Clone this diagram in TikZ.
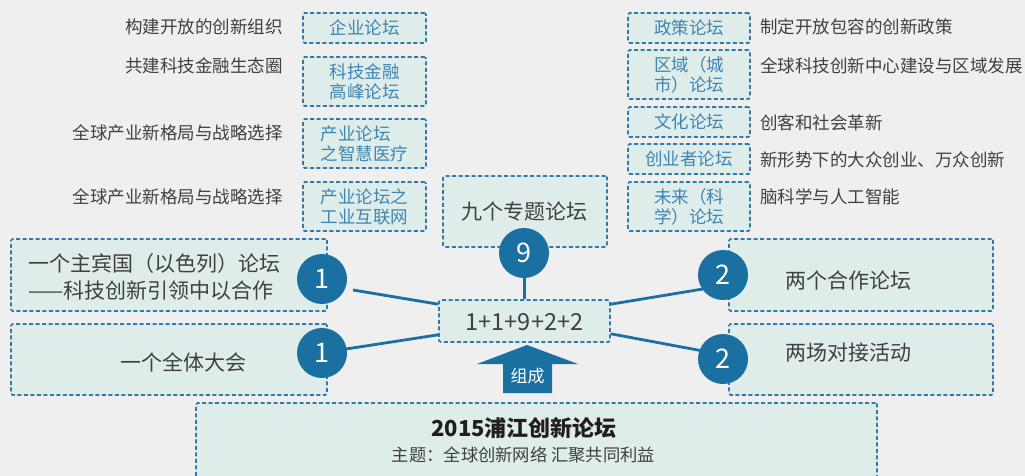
\documentclass[tikz,border=0pt]{standalone}
\usepackage{fontspec}
\setmainfont{Noto Sans CJK SC}
\usetikzlibrary{calc}
\definecolor{bg}{RGB}{239,239,239}
\definecolor{boxfill}{RGB}{222,237,234}
\definecolor{dashc}{RGB}{48,122,172}
\definecolor{circ}{RGB}{26,113,161}
\definecolor{bluetext}{RGB}{62,133,178}
\definecolor{graytext}{RGB}{64,64,64}
\definecolor{darktext}{RGB}{35,30,30}
\tikzset{
  box/.style={draw=dashc, fill=boxfill, line width=1.6pt, dash pattern=on 4pt off 2.5pt, rounded corners=1.5pt, inner sep=0pt},
  forum/.style={box, text=bluetext, font=\fontsize{17.5}{20}\selectfont, align=left, minimum width=123pt},
  bigbox/.style={box},
  lbl/.style={text=graytext, font=\fontsize{17.5}{20}\selectfont, inner sep=0pt},
  maintext/.style={text=graytext, font=\fontsize{21}{27}\selectfont, inner sep=0pt, align=left},
  num/.style={circle, fill=circ, text=white, minimum size=50pt, inner sep=0pt, font=\fontsize{27}{27}\selectfont},
  conn/.style={draw=circ, line width=2.8pt}
}
\begin{document}
\begin{tikzpicture}[x=1pt,y=-1pt]
\fill[bg] (0,0) rectangle (1025,476);
\useasboundingbox (0,0) rectangle (1025,476);
\clip (0,0) rectangle (1025,476);

% top-left forum boxes
\node[forum, minimum height=30pt] (f1) at (364.5,28) {企业论坛};
\node[forum, minimum height=49pt] (f2) at (364.5,81.5) {科技金融\\高峰论坛};
\node[forum, minimum height=49pt] (f3) at (364.5,143.5) {产业论坛\\之智慧医疗};
\node[forum, minimum height=49pt] (f4) at (364.5,206.5) {产业论坛之\\工业互联网};
\node[lbl, anchor=east] (lf1) at (283,27) {构建开放的创新组织};
\node[lbl, anchor=east] (lf2) at (283,66) {共建科技金融生态圈};
\node[lbl, anchor=east] (lf3) at (283,133) {全球产业新格局与战略选择};
\node[lbl, anchor=east] (lf4) at (283,197) {全球产业新格局与战略选择};

% top-right forum boxes
\node[forum, minimum width=122pt, minimum height=30pt] (g1) at (689,28) {政策论坛};
\node[forum, minimum width=122pt, minimum height=49pt] (g2) at (689,74.5) {区域（城\\市）论坛};
\node[forum, minimum width=122pt, minimum height=30pt] (g3) at (689,122) {文化论坛};
\node[forum, minimum width=122pt, minimum height=30pt] (g4) at (689,159) {创业者论坛};
\node[forum, minimum width=122pt, minimum height=49pt] (g5) at (689,206.5) {未来（科\\学）论坛};
\node[lbl, anchor=west] (lg1) at (760,27) {制定开放包容的创新政策};
\node[lbl, anchor=west] (lg2) at (760,66) {全球科技创新中心建设与区域发展};
\node[lbl, anchor=west] (lg3) at (760,123) {创客和社会革新};
\node[lbl, anchor=west] (lg4) at (760,160) {新形势下的大众创业、万众创新};
\node[lbl, anchor=west] (lg5) at (760,197) {脑科学与人工智能};

% main boxes
\node[bigbox, minimum width=316pt, minimum height=72pt] (L1) at (169,275) {};
\node[maintext] (L1t) at (154.5,276.5) {一个主宾国（以色列）论坛\\——科技创新引领中以合作};
\node[bigbox, minimum width=316pt, minimum height=71pt] (L2) at (169,359.5) {};
\node[maintext] (L2t) at (183,362) {一个全体大会};
\node[bigbox, minimum width=164pt, minimum height=71pt] (N) at (525,211.5) {};
\node[maintext] (Nt) at (524,212) {九个专题论坛};
\node[bigbox, minimum width=171pt, minimum height=42pt] (M) at (524.5,321) {};
\node[maintext, font=\fontsize{23.5}{24}\selectfont] (Mt) at (524.5,322) {1+1+9+2+2};
\node[bigbox, minimum width=264pt, minimum height=72pt] (R1) at (861,275) {};
\node[maintext] (R1t) at (848,280) {两个合作论坛};
\node[bigbox, minimum width=264pt, minimum height=71pt] (R2) at (861,359.5) {};
\node[maintext] (R2t) at (848,353) {两场对接活动};
\node[bigbox, minimum width=681pt, minimum height=100pt] (B) at (536.5,453) {};
\node[text=darktext, font=\fontsize{22}{22}\selectfont\bfseries, inner sep=0pt] (Bt) at (524,428) {2015浦江创新论坛};
\node[text=graytext, font=\fontsize{17.3}{20}\selectfont, inner sep=0pt] (Bs) at (523.5,455) {主题：全球创新网络 汇聚共同利益};

% arrow 组成
\fill[circ] (527,345) -- (578,364) -- (552,364) -- (552,393) -- (503,393) -- (503,364) -- (477,364) -- cycle;
\node[text=white, font=\fontsize{17}{17}\selectfont, inner sep=0pt] (zc) at (527.5,376) {组成};

% circles (coordinates for connectors)
\coordinate (c1a) at (322,279);
\coordinate (c1b) at (322,353);
\coordinate (c9) at (524,253);
\coordinate (c2a) at (723,275);
\coordinate (c2b) at (723,359);

% connectors
\draw[conn] ($(M.north west)+(0,5)$) -- ($(c1a)+(31,11)$);
\draw[conn] ($(M.south west)+(0,-8)$) -- ($(c1b)+(24,-4)$);
\draw[conn] ($(M.north east)+(0,5)$) -- ($(c2a)+(-20,14)$);
\draw[conn] ($(M.south east)+(0,-9)$) -- ($(c2b)+(-20,-8)$);
\draw[conn] (M.north) -- (M.north |- c9);

% number circles
\node[num] (n1a) at (c1a) {1};
\node[num] (n1b) at (c1b) {1};
\node[num] (n9) at (c9) {9};
\node[num] (n2a) at (c2a) {2};
\node[num] (n2b) at (c2b) {2};
\end{tikzpicture}
\end{document}
